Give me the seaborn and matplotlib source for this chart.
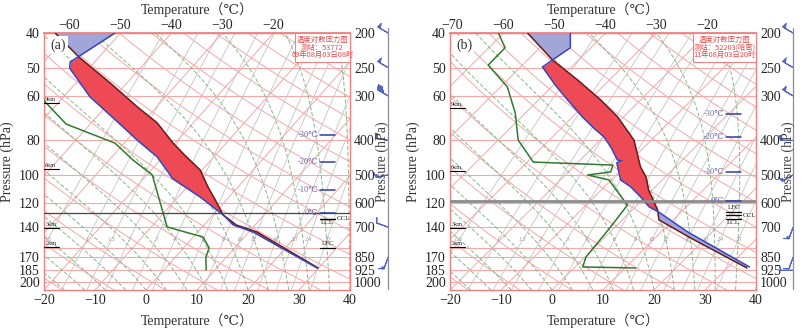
import numpy as np
import pandas as pd
import matplotlib
matplotlib.use("Agg")
import matplotlib.pyplot as plt
from matplotlib.patches import Rectangle
from matplotlib.ticker import NullLocator
import seaborn as sns

sns.set_theme(style="white")
plt.rcParams['font.family'] = ['Liberation Serif', 'DejaVu Serif', 'Noto Sans CJK SC']
CJK = ['Noto Sans CJK SC', 'DejaVu Sans']

# ---------------- data ----------------
p_levels = [200, 250, 300, 400, 500, 600, 700, 850, 925, 1000]
left_labels = [40, 50, 60, 80, 100, 120, 140, 170, 185, 200]
extra_isobars = [800]
bottom_ticks = [-20, -10, 0, 10, 20, 30, 40]
top_ticks_a = [-60, -50, -40, -30, -20]
top_ticks_b = [-70, -60, -50, -40, -30, -20]

# panel (a): environment temperature, lifted parcel, dew point
env_p_a = [200, 233, 241, 251, 302, 367, 399, 445, 500, 510, 576, 647, 690, 722, 911]
env_t_a = [-51.1, -54.1, -54.8, -53.8, -44.8, -33.0, -28.0, -21.1, -15.4, -14.5, -5.7, 2.0, 5.7, 10.8, 29.7]
par_p_a = [200, 233, 276, 322, 357, 407, 440, 484, 540, 587, 647, 690, 722, 911]
par_t_a = [-62.8, -54.1, -43.3, -33.8, -27.1, -20.4, -16.0, -10.4, -5.9, -2.2, 2.0, 6.3, 11.6, 29.9]
dew_p_a = [290, 312, 360, 407, 454, 500, 699, 746, 800, 850, 923]
dew_t_a = [-57.0, -52.7, -44.7, -31.8, -25.3, -18.9, -6.9, 1.9, 5.0, 6.0, 8.3]

# panel (b)
env_p_b = [200, 220, 238, 249, 280, 308, 344, 369, 391, 418, 454, 456, 462, 516, 540, 576, 614, 635, 722, 905]
env_t_b = [-46.9, -44.0, -45.1, -45.7, -39.6, -34.3, -28.0, -23.7, -19.9, -16.5, -12.7, -11.7, -12.3,
           -8.2, -4.8, -0.9, 2.7, 5.6, 15.2, 34.2]
par_p_b = [200, 238, 271, 308, 344, 399, 475, 506, 551, 595, 627, 668, 751, 911]
par_t_b = [-55.3, -45.1, -36.2, -27.8, -21.1, -13.4, -6.8, -3.8, -0.7, 2.7, 5.0, 7.2, 17.0, 33.9]
dew_p_b = [200, 220, 246, 283, 335, 399, 460, 469, 490, 500, 516, 607, 699, 850, 905, 911]
dew_t_b = [-61.0, -56.8, -56.7, -48.7, -42.0, -36.1, -28.8, -12.6, -11.7, -15.6, -10.5, -1.9, -0.9, 0.2, 1.5, 12.1]

# marker levels
height_names = ['9km', '6km', '3km', '2km']
height_p_a = [314, 481, 704, 795]
height_p_b = [325, 487, 704, 795]
iso_names = ['-30℃', '-20℃', '-10℃', '0℃']
iso_p_a = [386, 460, 551, 637]
iso_p_b = [337, 391, 491, 590]
zero_line_a = 638
zero_line_b = 591

# wind barbs (knots, direction wind comes from)
barb_p = [200, 250, 300, 400, 500, 700, 850]
barb_spd_a = [50, 50, 45, 20, 15, 10, 15]
barb_dir_a = [300, 300, 300, 280, 260, 290, 200]
barb_p_b = [200, 250, 300, 400, 500, 700, 850, 925]
barb_spd_b = [50, 50, 50, 20, 15, 15, 10, 10]
barb_dir_b = [300, 300, 300, 270, 240, 200, 200, 270]

mix_ratios = [0.5, 1, 1.5, 2, 3, 4, 6, 8, 10, 12, 16, 20, 24, 30]
moist_starts = np.arange(-20, 41, 4)
dry_thetas = np.arange(-40, 201, 10)
isotherms = np.arange(-120, 41, 10)

P_BOT, P_TOP = 1050, 200
TOP_OFF_A, TOP_OFF_B = 45.0, 50.5   # skew (deg C) between bottom and top of chart

RED_LINE = '#f4a8a8'
GREEN_DASH = '#86b886'
GRAY_LINE = '#c4c4c4'


def skew_x(t, p, k):
    return np.asarray(t, float) + k * np.log(P_BOT / np.asarray(p, float))


def moist_adiabat(t0, pp):
    rd, cp, lv, eps = 287.04, 1005.7, 2.501e6, 0.622
    t = np.empty_like(pp)
    t[0] = t0 + 273.15
    lnp = np.log(pp)
    for i in range(1, len(pp)):
        tk = t[i - 1]
        tc = tk - 273.15
        es = 6.112 * np.exp(17.67 * tc / (tc + 243.5))
        rs = eps * es / (pp[i - 1] - es)
        dt = (rd * tk + lv * rs) / (cp + lv ** 2 * rs * eps / (rd * tk ** 2))
        t[i] = tk + dt * (lnp[i] - lnp[i - 1])
    return t - 273.15


def mixing_td(w, pp):
    e = w * pp / (622.0 + w)
    a = np.log(e / 6.112)
    return 243.5 * a / (17.67 - a)


def draw_panel(ax, bax, top_off, top_ticks, env, par, dew, heights, isos, zero_p, zero_style,
               marks, box_lines, box_x0, tag, barbs):
    k = top_off / np.log(P_BOT / P_TOP)
    ax.set_yscale('log')
    ax.set_ylim(P_BOT, P_TOP)
    ax.set_xlim(-20, 40)
    ax.yaxis.set_minor_locator(NullLocator())
    pp = np.geomspace(P_BOT, P_TOP, 300)

    # background: isobars, isotherms, dry/moist adiabats, mixing ratio
    for p in p_levels + extra_isobars:
        ax.axhline(p, color=RED_LINE, lw=0.8, zorder=1)
    for t in isotherms:
        ax.plot(skew_x(t, pp, k), pp, color=RED_LINE, lw=0.7, zorder=1)
    for th in dry_thetas:
        t = (th + 273.15) * (pp / 1000.0) ** 0.286 - 273.15
        ax.plot(skew_x(t, pp, k), pp, color=RED_LINE, lw=0.7, zorder=1)
    for t0 in moist_starts:
        ax.plot(skew_x(moist_adiabat(t0, pp), pp, k), pp, color=GREEN_DASH, lw=0.7,
                ls=(0, (4, 2)), zorder=1)
    for w in mix_ratios:
        ax.plot(skew_x(mixing_td(w, pp), pp, k), pp, color=GRAY_LINE, lw=0.6, zorder=1)
        ax.text(skew_x(mixing_td(w, 760.0), 760.0, k), 760, f'{w:g}', fontsize=4.5,
                color='#999999', style='italic', ha='center', va='center', zorder=1)

    # CAPE / CIN shading between parcel and environment
    (ep, et), (pp_, pt) = env, par
    lo, hi = max(ep[0], pp_[0]), min(ep[-1], pp_[-1])
    pg = np.geomspace(lo, hi, 400)
    xe = np.interp(np.log(pg), np.log(ep), skew_x(et, ep, k))
    xp = np.interp(np.log(pg), np.log(pp_), skew_x(pt, pp_, k))
    ax.fill_betweenx(pg, xe, xp, where=xp >= xe, interpolate=True, color='#ee4a55', lw=0, zorder=2)
    ax.fill_betweenx(pg, xe, xp, where=xp < xe, interpolate=True, color='#a2a5d8', lw=0, zorder=2)

    prof = pd.concat([
        pd.DataFrame({'x': skew_x(pt, pp_, k), 'p': pp_, 'curve': 'parcel'}),
        pd.DataFrame({'x': skew_x(et, ep, k), 'p': ep, 'curve': 'env'}),
        pd.DataFrame({'x': skew_x(dew[1], dew[0], k), 'p': dew[0], 'curve': 'dew'}),
    ])
    sns.lineplot(data=prof, x='x', y='p', hue='curve', sort=False, estimator=None,
                 palette={'parcel': '#6b1a1a', 'env': '#3346c4', 'dew': '#2f7a2f'},
                 linewidth=1.1, legend=False, ax=ax, zorder=3)

    # reference horizontal line
    ax.axhline(zero_p, **zero_style)

    ytr = ax.get_yaxis_transform()
    for name, p in zip(height_names, heights):
        ax.plot([0.0, 0.05], [p, p], transform=ytr, color='black', lw=0.8, zorder=4)
        ax.text(0.004, p * 0.993, name, transform=ytr, fontsize=4.5, va='bottom', ha='left', zorder=4)
    for name, p in zip(iso_names, isos):
        ax.plot([0.902, 0.952], [p, p], transform=ytr, color='#2d3fa8', lw=1.1, zorder=4)
        ax.text(0.897, p, name, transform=ytr, fontsize=6, color='#6a6aaa', va='center',
                ha='right', zorder=4)
    for name, p, where in marks:
        ax.plot([0.902, 0.952], [p, p], transform=ytr, color='black', lw=0.9, zorder=4)
        if where == 'right':
            ax.text(0.958, p, name, transform=ytr, fontsize=5, va='center', ha='left', zorder=4)
        elif where == 'above':
            ax.text(0.927, p * 0.99, name, transform=ytr, fontsize=5, va='bottom', ha='center', zorder=4)
        else:
            ax.text(0.927, p * 1.008, name, transform=ytr, fontsize=5, va='top', ha='center', zorder=4)

    # station box
    ax.add_patch(Rectangle((box_x0, 0.887), 1 - box_x0, 0.113, transform=ax.transAxes,
                           facecolor='white', edgecolor='#f08080', lw=0.8, zorder=5))
    xc = box_x0 + (1 - box_x0) / 2
    for yy, line in zip([0.972, 0.943, 0.915], box_lines):
        ax.text(xc, yy, line, transform=ax.transAxes, fontsize=5.3, color='#e34b4b',
                ha='center', va='center', family=CJK, zorder=6)

    ax.text(0.02, 0.953, tag, transform=ax.transAxes, fontsize=10, color='#333333', va='center',
            ha='left', zorder=6, bbox=dict(facecolor='white', edgecolor='none', pad=1.5))

    # axes, ticks, labels
    for s in ax.spines.values():
        s.set_color('#f08080')
        s.set_linewidth(1.0)
    ax.set_xticks(bottom_ticks)
    ax.set_xticklabels([f'{t:d}'.replace('-', '\u2212') for t in bottom_ticks])
    ax.set_yticks(p_levels)
    ax.set_yticklabels([str(v) for v in left_labels])
    ax.tick_params(length=0, labelsize=10, pad=3)
    ax.set_xlabel('Temperature（℃）', fontsize=10, color='#333333')
    ax.xaxis.set_label_coords(0.5, -0.088)
    ax.set_ylabel('Pressure (hPa)', fontsize=10, color='#333333')
    ax.yaxis.set_label_coords(-0.097, 0.5)

    sec = ax.secondary_xaxis('top', functions=(lambda x: x - top_off, lambda t: t + top_off))
    sec.set_xticks(top_ticks)
    sec.set_xticklabels([f'{t:d}'.replace('-', '\u2212') for t in top_ticks])
    sec.tick_params(length=0, labelsize=10, pad=1)
    sec.set_xlabel('Temperature（℃）', fontsize=10, color='#333333', labelpad=3)
    sec.spines['top'].set_color('#f08080')

    ax2 = ax.twinx()
    ax2.set_yscale('log')
    ax2.set_ylim(P_BOT, P_TOP)
    ax2.yaxis.set_minor_locator(NullLocator())
    ax2.set_yticks(p_levels)
    ax2.set_yticklabels([str(v) for v in p_levels])
    ax2.tick_params(length=0, labelsize=10, pad=3)
    ax2.set_ylabel('Pressure (hPa)', fontsize=10, color='#444444')
    ax2.yaxis.set_label_coords(1.085, 0.5)
    for s in ax2.spines.values():
        s.set_visible(False)

    # wind barbs, shaft pointing toward where the wind comes from
    bp, spd, dr = barbs
    bax.set_yscale('log')
    bax.set_ylim(P_BOT, P_TOP)
    bax.set_xlim(0, 1)
    bax.axis('off')
    bax.plot([0.62, 0.62], [P_BOT * 0.995, P_TOP * 0.97], color='#8a8a9a', lw=0.9, clip_on=False)
    spd = np.asarray(spd, float)
    rad = np.deg2rad(dr)
    u = -spd * np.sin(rad)
    v = -spd * np.cos(rad)
    bax.barbs(np.full(len(bp), 0.62), bp, u, v, length=4.2, color='#5566c0', linewidth=0.8,
              sizes=dict(emptybarb=0.0), clip_on=False)


W, H = 804, 332
fig = plt.figure(figsize=(W / 100, H / 100), dpi=100)
fig.patch.set_facecolor('white')
ax_a = fig.add_axes([44 / W, 1 - 290 / H, 306 / W, 257 / H])
ax_b = fig.add_axes([450 / W, 1 - 290 / H, 306 / W, 257 / H])
bax_a = fig.add_axes([372 / W, 1 - 290 / H, 26 / W, 257 / H])
bax_b = fig.add_axes([777 / W, 1 - 290 / H, 26 / W, 257 / H])

draw_panel(ax_a, bax_a, TOP_OFF_A, top_ticks_a,
           (env_p_a, env_t_a), (par_p_a, par_t_a), (dew_p_a, dew_t_a),
           height_p_a, iso_p_a, zero_line_a, dict(color='#444444', lw=0.9, zorder=3),
           [('CCL', 664, 'right'), ('LCL', 664, 'below'), ('LFC', 800, 'above')],
           ['温度对数压力图', '测站：53772', '09年08月03日08时'], 0.82, '(a)',
           (barb_p, barb_spd_a, barb_dir_a))

draw_panel(ax_b, bax_b, TOP_OFF_B, top_ticks_b,
           (env_p_b, env_t_b), (par_p_b, par_t_b), (dew_p_b, dew_t_b),
           height_p_b, iso_p_b, zero_line_b, dict(color='#8c8c8c', lw=2.0, zorder=3),
           [('LFC', 635, 'above'), ('CCL', 649, 'right'), ('LCL', 664, 'below')],
           ['温度对数压力图', '测站：52203(哈密)', '11年08月03日20时'], 0.794, '(b)',
           (barb_p_b, barb_spd_b, barb_dir_b))

fig.savefig('out.png', dpi=100)
